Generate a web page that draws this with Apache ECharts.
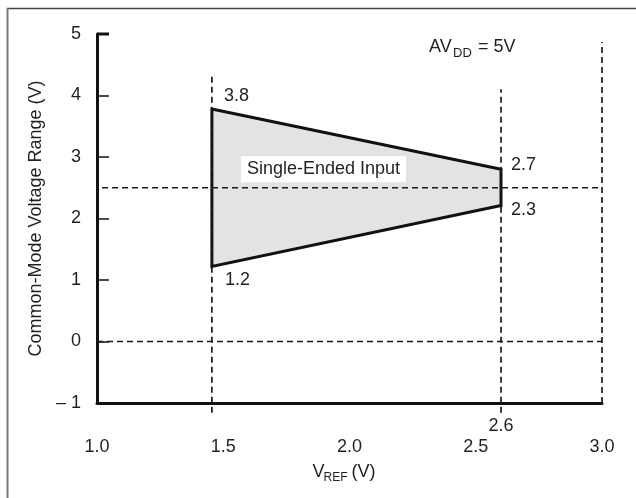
<!DOCTYPE html>
<html>
<head>
<meta charset="utf-8">
<script src="https://cdn.jsdelivr.net/npm/echarts@6/dist/echarts.min.js"></script>
<style>
html,body{margin:0;padding:0;background:#fff;}
#chart{width:636px;height:498px;}
</style>
</head>
<body>
<div id="chart"></div>
<script>
// ---- data ----
const xMin = 1.0, xMax = 3.0, xStep = 0.5;
const yMin = -1, yMax = 5, yStep = 1;
// shaded single-ended input region (clockwise vertices)
const regionX = [1.455, 2.6, 2.6, 1.455];
const regionY = [3.78, 2.80, 2.21, 1.22];
const vertexLabels = ['3.8', '2.7', '2.3', '1.2'];
// dashed reference lines
const vLineX = [1.455, 2.6, 3.0];
const vLineTop = [4.31, 4.10, 4.87];
const vLineBottom = [-1.16, -1.16, -1.0];
const hLineY = [2.5, 0];
const hLineStart = [1.02, 1.0];
const hLineEnd = [3.0, 3.0];
const markX = 2.6, markXLabel = '2.6';
const regionName = 'Single-Ended Input';
const regionNamePos = [1.897, 2.80];

const FONT = '"Liberation Sans", Arial, Helvetica, sans-serif';
const TXT = '#231f20';

const chart = echarts.init(document.getElementById('chart'));

const series = [];
// shaded polygon + vertex labels
series.push({
  type: 'custom',
  silent: true,
  clip: false,
  z: 2,
  data: [[regionX[0], regionY[0]]],
  renderItem: function (params, api) {
    const pts = regionX.map((x, i) => api.coord([x, regionY[i]]));
    const offs = [[12, -13], [10, -4], [10, 4], [13, 14]];
    const children = [{
      type: 'polygon',
      shape: { points: pts },
      style: { fill: '#e2e3e3', stroke: '#111', lineWidth: 3, lineJoin: 'miter' }
    }];
    vertexLabels.forEach((t, i) => {
      children.push({
        type: 'text',
        x: pts[i][0] + offs[i][0],
        y: pts[i][1] + offs[i][1],
        style: { text: t, fill: TXT, font: '18px ' + FONT,
          align: 'left', verticalAlign: 'middle', textAlign: 'left', textVerticalAlign: 'middle' }
      });
    });
    const m = api.coord([markX, yMin]);
    children.push({
      type: 'text', x: m[0], y: m[1] + 23,
      style: { text: markXLabel, fill: TXT, font: '18px ' + FONT,
        align: 'center', verticalAlign: 'middle', textAlign: 'center', textVerticalAlign: 'middle' }
    });
    const c = api.coord(regionNamePos);
    children.push({
      type: 'text', x: c[0], y: c[1], z2: 10,
      style: { text: regionName, fill: TXT, font: '18px ' + FONT,
        align: 'center', verticalAlign: 'middle', textAlign: 'center', textVerticalAlign: 'middle',
        backgroundColor: '#fff', padding: [4, 6, 4, 6] }
    });
    return { type: 'group', children: children };
  }
});
// dashed lines
const dashStyle = { color: '#1a1a1a', width: 1.7, type: [6, 4] };
vLineX.forEach((x, i) => {
  series.push({ type: 'line', silent: true, clip: false, symbol: 'none', z: 3,
    data: [[x, vLineBottom[i]], [x, vLineTop[i]]], lineStyle: dashStyle });
});
hLineY.forEach((y, i) => {
  series.push({ type: 'line', silent: true, clip: false, symbol: 'none', z: 3,
    data: [[hLineStart[i], y], [hLineEnd[i], y]], lineStyle: dashStyle });
});

chart.setOption({
  animation: false,
  backgroundColor: '#fff',
  textStyle: { fontFamily: FONT },
  grid: { left: 97, right: 34, top: 34, bottom: 95, containLabel: false },
  xAxis: {
    type: 'value', min: xMin, max: xMax, interval: xStep,
    axisLine: { show: true, onZero: false, lineStyle: { color: '#111', width: 3 } },
    axisTick: { show: false },
    splitLine: { show: false },
    axisLabel: { color: TXT, fontSize: 18, fontFamily: FONT, margin: 35,
      formatter: v => v.toFixed(1) }
  },
  yAxis: {
    type: 'value', min: yMin, max: yMax, interval: yStep,
    name: 'Common-Mode Voltage Range (V)',
    nameLocation: 'middle', nameGap: 43, nameRotate: 90,
    nameTextStyle: { color: TXT, fontSize: 18, fontFamily: FONT },
    axisLine: { show: true, onZero: false, lineStyle: { color: '#111', width: 3 } },
    axisTick: { show: true, inside: true, length: 12, lineStyle: { color: '#111', width: 1.5 } },
    splitLine: { show: false },
    axisLabel: { color: TXT, fontSize: 18, fontFamily: FONT, margin: 16,
      formatter: v => v === -1 ? '\u2013 1' : String(v) }
  },
  series: series
});

// decorations: titles with subscripts, frame, top tick
const p5 = chart.convertToPixel({ gridIndex: 0 }, [xMin, yMax]);
const pCenter = chart.convertToPixel({ gridIndex: 0 }, [(xMin + xMax) / 2, yMin]);
chart.setOption({
  graphic: [
    { type: 'line', shape: { x1: 7, y1: 8.5, x2: 636, y2: 8.5 }, style: { stroke: '#444', lineWidth: 1.5 }, silent: true },
    { type: 'line', shape: { x1: 7.5, y1: 8, x2: 7.5, y2: 498 }, style: { stroke: '#777', lineWidth: 2 }, silent: true },
    { type: 'line', shape: { x1: p5[0], y1: p5[1], x2: p5[0] + 12, y2: p5[1] }, style: { stroke: '#111', lineWidth: 3 }, silent: true },
    { type: 'group', x: 429, y: 47, silent: true, children: [
      { type: 'text', x: 0, y: 0, style: { text: 'AV', fill: TXT, font: '18px ' + FONT, textVerticalAlign: 'middle', verticalAlign: 'middle' } },
      { type: 'text', x: 24, y: 6, style: { text: 'DD', fill: TXT, font: '13px ' + FONT, textVerticalAlign: 'middle', verticalAlign: 'middle' } },
      { type: 'text', x: 49, y: 0, style: { text: '= 5V', fill: TXT, font: '18px ' + FONT, textVerticalAlign: 'middle', verticalAlign: 'middle' } }
    ]},
    { type: 'group', x: pCenter[0] - 37, y: 472, silent: true, children: [
      { type: 'text', x: 0, y: 0, style: { text: 'V', fill: TXT, font: '18px ' + FONT, textVerticalAlign: 'middle', verticalAlign: 'middle' } },
      { type: 'text', x: 11, y: 6, style: { text: 'REF', fill: TXT, font: '12px ' + FONT, textVerticalAlign: 'middle', verticalAlign: 'middle' } },
      { type: 'text', x: 39, y: 0, style: { text: '(V)', fill: TXT, font: '18px ' + FONT, textVerticalAlign: 'middle', verticalAlign: 'middle' } }
    ]}
  ]
});
</script>
</body>
</html>
